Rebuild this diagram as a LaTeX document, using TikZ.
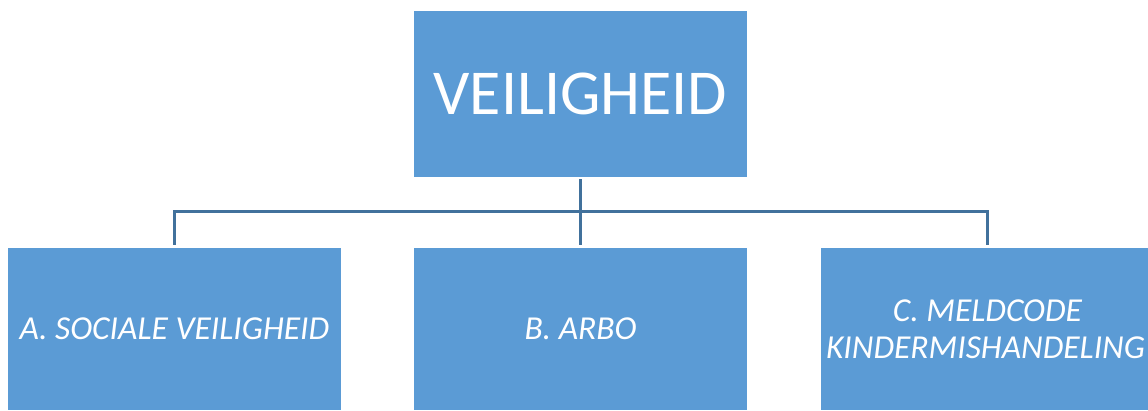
\documentclass[tikz,border=0pt]{standalone}
\usepackage{fontspec}
\setmainfont{Carlito}
\definecolor{boxfill}{HTML}{5B9BD5}
\definecolor{linec}{HTML}{41719C}
\tikzset{
  x=1pt, y=-1pt,
  box/.style={fill=boxfill, draw=none, inner sep=0pt, minimum width=333pt, text=white, align=center},
  sub/.style={box, minimum height=162pt, font=\fontsize{33.5}{37}\selectfont\itshape},
  conn/.style={draw=linec, line width=3pt},
}
\begin{document}
\begin{tikzpicture}
\useasboundingbox (0,0) rectangle (1148,410);
\clip (0,0) rectangle (1148,410);
\fill[white] (0,0) rectangle (1148,410);
\node[box, minimum height=166pt, font=\fontsize{64}{70}\selectfont] (top) at (580.5,94) {VEILIGHEID};
\node[sub] (a) at (174.5,329) {A. SOCIALE VEILIGHEID};
\node[sub] (b) at (580.5,329) {B. ARBO};
\node[sub] (c) at (987.5,329) {C. MELDCODE\\KINDERMISHANDELING\hspace*{4pt}};
\coordinate (j) at (580.5,211);
\draw[conn] ([yshift=-2pt]top.south) -- (j);
\draw[conn] (j) -| ([yshift=3pt]a.north);
\draw[conn] (j) -- ([yshift=3pt]b.north);
\draw[conn] (j) -| ([yshift=3pt]c.north);
\end{tikzpicture}
\end{document}
